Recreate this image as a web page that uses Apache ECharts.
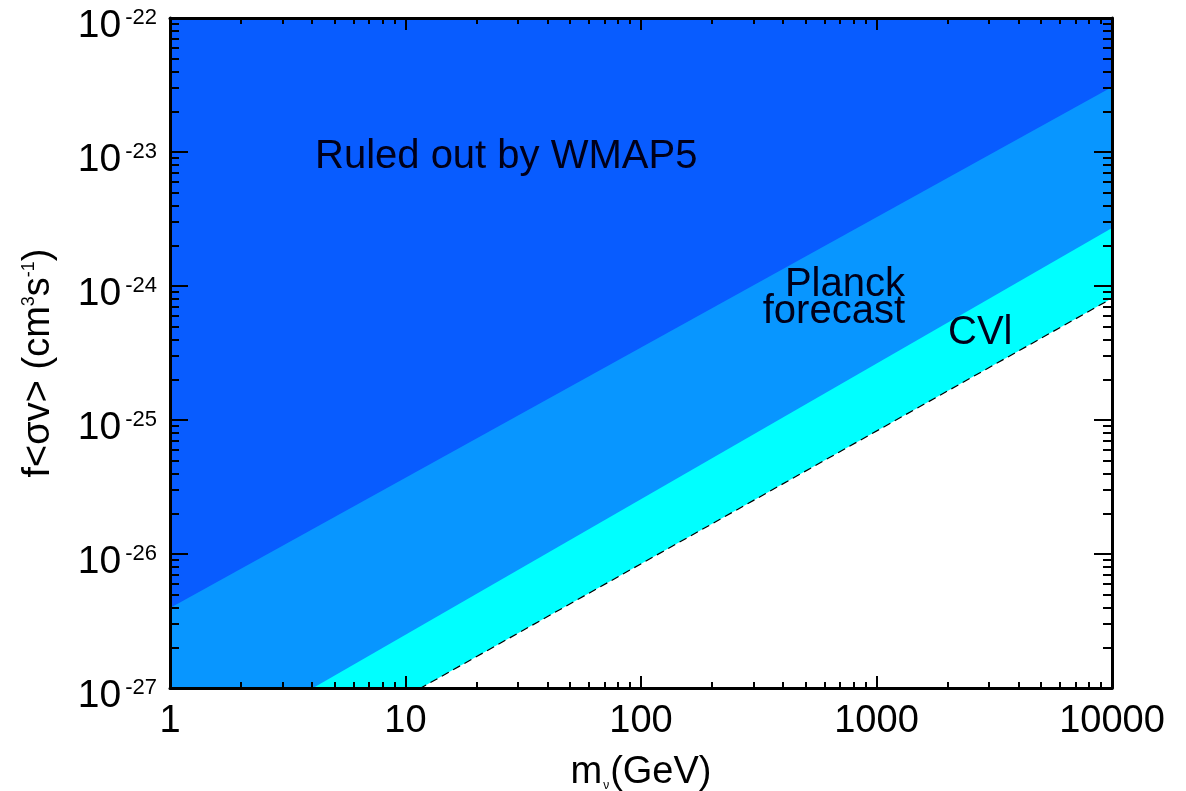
<!DOCTYPE html>
<html><head><meta charset="utf-8">
<script src="https://cdn.jsdelivr.net/npm/echarts@6/dist/echarts.min.js"></script>
<style>html,body{margin:0;padding:0;background:#fff}#c{width:1186px;height:791px}</style>
</head><body><div id="c"></div>
<script>
// ---- data ----
const xMajor = [1, 10, 100, 1000, 10000];
const yMajor = [1e-27, 1e-26, 1e-25, 1e-24, 1e-23, 1e-22];
const minorMult = [2, 3, 4, 5, 6, 7, 8, 9];
// boundary lines (m in GeV, f<sigma v> in cm^3 s^-1)
const wmapX = [1, 10000];
const wmapY = [3.95e-27, 3.05e-23];
const planckX = [1, 10000];
const planckY = [2.43e-28, 2.71e-24];
const cvlX = [1, 10000];
const cvlY = [8.8e-29, 8.1e-25];
const labels = { wmap: 'Ruled out by WMAP5', planck1: 'Planck', planck2: 'forecast', cvl: 'CVl' };

// ECharts rounds log-axis values to 10 decimals, so the y axis works in units of 1e-27
const Y_UNIT = 1e-27;
const Y_UNIT_EXP = -27;
const yu = v => v / Y_UNIT;

const FONT = "'Liberation Sans', Arial, Helvetica, sans-serif";
function minors(major) {
  const out = [];
  for (let i = 0; i < major.length - 1; i++) for (const k of minorMult) out.push(k * major[i]);
  return out;
}
const xMinor = minors(xMajor);
const yMajorU = yMajor.map(v => Math.round(yu(v)));
const yMinorU = minors(yMajorU);
const zip = (a, b) => a.map((v, i) => [v, yu(b[i])]);

const chart = echarts.init(document.getElementById('c'));
const line = { show: true, onZero: false, lineStyle: { color: '#000', width: 3 } };
const noLine = { show: false, onZero: false };
function xAx(pos, ticks, len, showLine, extra) {
  return Object.assign({
    type: 'log', min: xMajor[0], max: xMajor[xMajor.length - 1], position: pos, z: 10,
    axisLine: showLine ? line : noLine,
    axisTick: { show: true, inside: true, length: len, customValues: ticks, lineStyle: { color: '#000', width: 2 } },
    axisLabel: { show: false }, splitLine: { show: false }, minorTick: { show: false }
  }, extra || {});
}
function yAx(pos, ticks, len, showLine, extra) {
  return Object.assign({
    type: 'log', min: yMajorU[0], max: yMajorU[yMajorU.length - 1], position: pos, z: 10,
    axisLine: showLine ? line : noLine,
    axisTick: { show: true, inside: true, length: len, customValues: ticks, lineStyle: { color: '#000', width: 2 } },
    axisLabel: { show: false }, splitLine: { show: false }, minorTick: { show: false }
  }, extra || {});
}

const option = {
  animation: false,
  backgroundColor: '#fff',
  grid: { left: 170, right: 74, top: 18, bottom: 103, containLabel: false, outerBoundsMode: 'none' },
  xAxis: [
    xAx('bottom', xMajor, 12, true, {
      axisLabel: { show: true, customValues: xMajor, fontSize: 38, color: '#000', fontFamily: FONT, margin: 15,
        formatter: v => String(Math.round(v)) },
      name: '{m|m}{s|ν}{g|(GeV)}', nameLocation: 'middle', nameGap: 66,
      nameTextStyle: { rich: {
        m: { fontSize: 38, color: '#000', fontFamily: FONT },
        s: { fontSize: 12, color: '#000', fontFamily: FONT, verticalAlign: 'bottom', padding: [0, 1, 0, 1] },
        g: { fontSize: 38, color: '#000', fontFamily: FONT }
      } }
    }),
    xAx('bottom', xMinor, 6, false),
    xAx('top', xMajor, 12, true),
    xAx('top', xMinor, 6, false)
  ],
  yAxis: [
    yAx('left', yMajorU, 18, true, {
      axisLabel: { show: true, customValues: yMajorU, margin: 13, padding: [16, 0, 0, 0],
        formatter: v => '{b|10}{s|' + (Math.round(Math.log10(v)) + Y_UNIT_EXP) + '}',
        rich: {
          b: { fontSize: 39, color: '#000', fontFamily: FONT },
          s: { fontSize: 22, color: '#000', fontFamily: FONT, verticalAlign: 'top', padding: [0, 0, 0, 4] }
        } },
      name: '{t|f<σv> (cm}{u|3}{t|s}{u|-1}{t|)}', nameLocation: 'middle', nameRotate: 90, nameGap: 112,
      nameTextStyle: { padding: [0, 20, 0, 0], rich: {
        t: { fontSize: 38, color: '#000', fontFamily: FONT },
        u: { fontSize: 18, color: '#000', fontFamily: FONT, verticalAlign: 'top' }
      } }
    }),
    yAx('left', yMinorU, 9, false),
    yAx('right', yMajorU, 18, true),
    yAx('right', yMinorU, 9, false)
  ],
  series: [
    { name: 'CVl', type: 'line', z: 2, data: zip(cvlX, cvlY), symbol: 'none', silent: true,
      lineStyle: { color: '#000', width: 1.2, type: [8, 5] },
      areaStyle: { origin: 'end', color: '#00FFFF', opacity: 1 } },
    { name: 'Planck', type: 'line', z: 3, data: zip(planckX, planckY), symbol: 'none', silent: true,
      lineStyle: { width: 0 },
      areaStyle: { origin: 'end', color: '#0896FF', opacity: 1 } },
    { name: 'WMAP5', type: 'line', z: 4, data: zip(wmapX, wmapY), symbol: 'none', silent: true,
      lineStyle: { width: 0 },
      areaStyle: { origin: 'end', color: '#085CFF', opacity: 1 } }
  ],
  graphic: [
    { type: 'text', x: 315, y: 157, z: 20, style: { text: labels.wmap, font: '40px ' + FONT, fill: '#00001a', align: 'left', verticalAlign: 'middle' } },
    { type: 'text', x: 905, y: 285, z: 20, style: { text: labels.planck1, font: '40px ' + FONT, fill: '#00001a', align: 'right', verticalAlign: 'middle' } },
    { type: 'text', x: 905, y: 312, z: 20, style: { text: labels.planck2, font: '40px ' + FONT, fill: '#00001a', align: 'right', verticalAlign: 'middle' } },
    { type: 'text', x: 948, y: 333, z: 20, style: { text: labels.cvl, font: '40px ' + FONT, fill: '#00001a', align: 'left', verticalAlign: 'middle' } }
  ]
};
chart.setOption(option);
</script>
</body></html>
